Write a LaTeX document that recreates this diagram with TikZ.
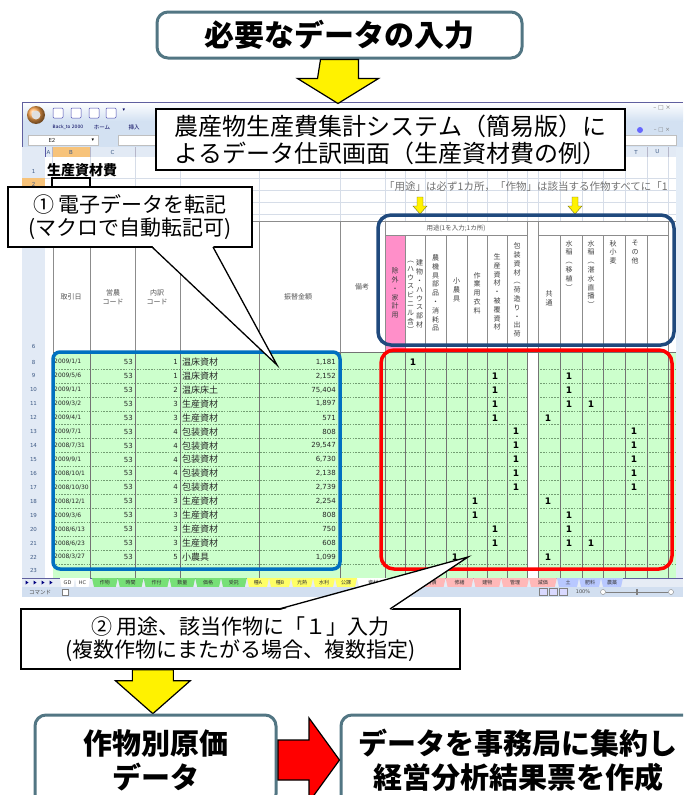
\documentclass[tikz,border=0pt]{standalone}
\usepackage{fontspec}
\newfontfamily\jp{Noto Sans CJK JP}
\newfontfamily\dv{DejaVu Sans}
\usetikzlibrary{calc}
\definecolor{framec}{HTML}{527683}
\definecolor{navyc}{HTML}{1F497D}
\definecolor{xblue}{HTML}{0070C0}
\definecolor{cellg}{HTML}{CCFFCC}
\definecolor{hdrbg}{HTML}{E2EAF5}
\definecolor{ribbonc}{HTML}{D3E1F2}
\definecolor{gridc}{HTML}{D6DDE8}
\definecolor{pinkc}{HTML}{FF8FC9}
\definecolor{selorange}{HTML}{F7C37A}
\definecolor{txtgray}{HTML}{555555}
\definecolor{rowtxt}{HTML}{3E5A85}
\definecolor{tabbg}{HTML}{E6ECF5}
\definecolor{statbg}{HTML}{D2DFF0}
\definecolor{greentab}{HTML}{77E077}
\definecolor{yellowtab}{HTML}{FFFF66}
\definecolor{pinktab}{HTML}{FFB8B8}
\definecolor{bluetab}{HTML}{B8C8FF}
\tikzset{
  bigbox/.style={draw=framec, line width=3pt, rounded corners=11pt, fill=white},
  bigtext/.style={font=\jp\bfseries\fontsize{29}{34}\selectfont, align=center, inner sep=0pt},
  callbox/.style={draw=black, line width=1.3pt, fill=white, align=center, inner sep=0pt,
    font=\jp\fontsize{21}{23}\selectfont},
  titlebox/.style={draw=black, line width=1.2pt, fill=white, align=left, inner sep=0pt,
    font=\jp\fontsize{24}{27}\selectfont},
  yarrow/.style={fill=yellow, draw=black, line width=1.2pt, line join=miter},
  rarrow/.style={fill=red, draw=black, line width=1.2pt, line join=miter},
  tinytxt/.style={font=\jp\fontsize{5.5}{6}\selectfont, inner sep=0pt, text=blue!35!black},
  tabtxt/.style={font=\jp\fontsize{5}{6}\selectfont, inner sep=0pt, text=black!80},
  celltxt/.style={font=\jp\fontsize{9}{10}\selectfont, inner sep=0pt, text=black!85},
  numtxt/.style={font=\dv\fontsize{7}{8}\selectfont, inner sep=0pt, text=black!85},
  onetxt/.style={font=\dv\bfseries\fontsize{9}{10}\selectfont, inner sep=0pt},
  vtxt/.style={font=\jp\fontsize{7}{8.8}\selectfont, align=center, inner sep=0pt, text=black!75},
  hdrtxt/.style={font=\jp\fontsize{7}{8.5}\selectfont, align=center, inner sep=0pt, text=txtgray},
  rownum/.style={font=\dv\fontsize{5.5}{6}\selectfont, inner sep=0pt, text=rowtxt},
  hl/.style={line width=3.5pt, rounded corners=13pt},
  gline/.style={draw=gridc, line width=0.4pt},
  vline/.style={draw=black!55, line width=0.5pt},
  dashline/.style={draw=green!30!black!55, line width=0.45pt, dash pattern=on 1.6pt off 1.2pt},
}
\begin{document}
\begin{tikzpicture}[x=1pt,y=-1pt]
\useasboundingbox (0,0) rectangle (683,795);
\clip (0,0) rectangle (683,795);
\fill[white] (0,0) rectangle (683,795);

%% ================= Excel window =================
\fill[ribbonc] (22,102) rectangle (683,147);
\shade[top color=white, bottom color=ribbonc] (22,102) rectangle (683,121);
\draw[blue!25!gray, line width=0.5pt] (22,102) -- (683,102);
\draw[blue!25!gray, line width=0.5pt] (22,102) -- (22,597);
% office button
\shade[ball color=orange!70!white] (36,115) circle (9);
\fill[white!75!gray] (36,115) circle (4.5);
% quick access icons
\foreach \qx in {58,76,94,111}{
  \draw[fill=white, draw=blue!40!gray, rounded corners=1pt, line width=0.5pt] (\qx-5,108) rectangle (\qx+5,118);
}
\node[tinytxt, font=\dv\fontsize{5}{5}\selectfont] (qdrop) at (124,110) {▾};
% window controls
\node[tinytxt, font=\dv\fontsize{6}{6}\selectfont, text=gray] (winctl) at (662,108) {– □ ×};
\fill[blue!60!white] (640,130) circle (3);
\node[tinytxt, font=\dv\fontsize{5.5}{6}\selectfont, text=gray] (ribctl) at (662,130) {– □ ×};
% ribbon tabs
\node[tinytxt, font=\dv\fontsize{4.5}{5}\selectfont] (rb1) at (68,127) {Back\_to 2000};
\node[tinytxt] (rb2) at (102,127) {ホーム};
\node[tinytxt] (rb3) at (134,127) {挿入};
% formula bar
\fill[white] (28,135) rectangle (98,145);
\draw[gray!50, line width=0.4pt] (28,135) rectangle (98,145);
\node[numtxt, font=\dv\fontsize{5.5}{6}\selectfont] (namebox) at (52,140) {E2};
\node[tinytxt, font=\dv\fontsize{5}{5}\selectfont, text=black] (nbdrop) at (93,140) {▾};
\fill[white] (118,135) rectangle (676,145);
\draw[gray!50, line width=0.4pt] (118,135) rectangle (676,145);

% column header row
\fill[hdrbg] (22,147) rectangle (683,157);
\fill[selorange] (52,147) rectangle (90,157);
\draw[blue!25!gray, line width=0.4pt] (22,157) -- (683,157);
\foreach \a in {45,52,90,135,180,259,340,385,405,425,446,467,487,507,527,538,560,582,603,625,647,668}{
  \draw[blue!15!gray!50, line width=0.4pt] (\a,147) -- (\a,157);
}
\foreach \a/\b/\l in {45/52/A,52/90/B,90/135/C,625/647/T,647/668/U,668/689/V}{
  \node[rownum] (col\l) at ({(\a+\b)/2},152) {\l};
}

% row header column
\fill[hdrbg] (22,157) rectangle (45,578);
\fill[selorange] (22,178) rectangle (45,190);
\draw[blue!30!gray, line width=0.5pt] (45,147) -- (45,578);
\node[rownum] (rn1) at (33.5,171) {1};
\node[rownum] (rn2) at (33.5,184) {2};
\node[rownum] (rn6) at (33.5,346) {6};
\foreach \r in {8,...,23}{
  \node[rownum] (rn\r) at (33.5,{362+13.93*(\r-8)}) {\r};
}

% sheet
\fill[white] (45,157) rectangle (676,578);
\fill[ribbonc!60!white] (676,147) rectangle (683,578);
\foreach \yy in {178,190,202,214}{ \draw[gline] (45,\yy) -- (676,\yy); }
\foreach \xx in {52,90,135,180,259,340,385,405,425,446,467,487,507,527,538,560,582,603,625,647,668}{
  \draw[gline] (\xx,157) -- (\xx,221);
}
\node[anchor=west, inner sep=0pt, font=\jp\bfseries\fontsize{14}{15}\selectfont] (sheettitle) at (47,170) {生産資材費};
\draw[black, line width=1.3pt] (52,178) rectangle (90,190);

% note line with small arrows
\node[anchor=west, inner sep=0pt, text=black!55, font=\jp\fontsize{10.5}{12}\selectfont] (note) at (384,187) {「用途」は必ず1カ所，「作物」は該当する作物すべてに「1};
\foreach \ax in {420,575}{
  \draw[fill=yellow, draw=olive!80!black, line width=0.4pt] (\ax-3,197) -- (\ax+3,197) -- (\ax+3,206) -- (\ax+7,206) -- (\ax,214) -- (\ax-7,206) -- (\ax-3,206) -- cycle;
}

% header block
\fill[white] (53,221) rectangle (676,352);
\fill[pinkc] (385,235) rectangle (405,352);
\draw[black!45, line width=0.5pt] (53,221) -- (676,221);
\draw[black!45, line width=0.5pt] (385,235) -- (527,235);
\draw[black!45, line width=0.5pt] (538,235) -- (668,235);
\foreach \xx in {53,90,135,180,259,340,385,527,538,668}{
  \draw[black!45, line width=0.5pt] (\xx,221) -- (\xx,352);
}
\foreach \xx in {405,425,446,467,487,507,560,582,603,625,647}{
  \draw[black!45, line width=0.5pt] (\xx,235) -- (\xx,352);
}
\node[hdrtxt] (h1) at (71,297) {取引日};
\node[hdrtxt] (h2) at (113,297) {営農\\コード};
\node[hdrtxt] (h3) at (157,297) {内訳\\コード};
\node[hdrtxt] (h4) at (298,297) {振替金額};
\node[hdrtxt] (h5) at (362,287) {備考};
\node[hdrtxt, font=\jp\fontsize{6.5}{7}\selectfont] (h6) at (456,228.5) {用途(1を入力;1カ所)};
\node[vtxt] (v1) at (395,293) {除\\外\\・\\家\\計\\用};
\node[vtxt] (v2a) at (419.5,294) {建\\物\\・\\ハ\\ウ\\ス\\部\\材};
\node[vtxt] (v2b) at (410.5,297) {︵\\ハ\\ウ\\ス\\ビ\\ニ\\ル\\含\\︶};
\node[vtxt] (v3) at (435.5,293) {農\\機\\具\\部\\品\\・\\消\\耗\\品};
\node[vtxt] (v4) at (456.5,290) {小\\農\\具};
\node[vtxt] (v5) at (477,293) {作\\業\\用\\衣\\料};
\node[vtxt] (v6) at (497,292) {生\\産\\資\\材\\・\\被\\覆\\資\\材};
\node[vtxt] (v7) at (517,290) {包\\装\\資\\材\\︵\\荷\\造\\り\\・\\出\\荷};
\node[vtxt] (v8) at (549,298) {共\\通};
\node[vtxt, anchor=north] (v9) at (569,240) {水\\稲\\︵\\移\\植\\︶};
\node[vtxt, anchor=north] (v10) at (591,240) {水\\稲\\︵\\湛\\水\\直\\播\\︶};
\node[vtxt, anchor=north] (v11) at (613,240) {秋\\小\\麦};
\node[vtxt, anchor=north] (v12) at (635,240) {そ\\の\\他};

% data area
\fill[cellg] (53,352) rectangle (676,578);
\foreach \k in {1,...,16}{ \draw[dashline] (53,{355+13.93*\k}) -- (676,{355+13.93*\k}); }
\fill[white] (527,352) rectangle (538,578);
\foreach \xx in {90,135,180,259,340,385,405,425,446,467,487,507,527,538,560,582,603,625,647,668}{
  \draw[vline] (\xx,352) -- (\xx,578);
}
\draw[black!55, line width=0.5pt] (53,352) -- (676,352);
\foreach \va/\vb/\vc/\vd [count=\i from 0] in {
 {2009/1/1}/1/温床資材/{1,181},
 {2009/5/6}/1/温床資材/{2,152},
 {2009/1/1}/2/温床床土/{75,404},
 {2009/3/2}/3/生産資材/{1,897},
 {2009/4/1}/3/生産資材/{571},
 {2009/7/1}/4/包装資材/{808},
 {2008/7/31}/4/包装資材/{29,547},
 {2009/9/1}/4/包装資材/{6,730},
 {2008/10/1}/4/包装資材/{2,138},
 {2008/10/30}/4/包装資材/{2,739},
 {2008/12/1}/3/生産資材/{2,254},
 {2009/3/6}/3/生産資材/{808},
 {2008/6/13}/3/生産資材/{750},
 {2008/6/23}/3/生産資材/{608},
 {2008/3/27}/5/小農具/{1,099}}{
  \node[numtxt, anchor=west, font=\dv\fontsize{6}{7}\selectfont] (dt\i) at (54,{362+13.93*\i}) {\va};
  \node[numtxt, anchor=east] (ei\i) at (133,{362+13.93*\i}) {53};
  \node[numtxt, anchor=east] (cc\i) at (178,{362+13.93*\i}) {\vb};
  \node[celltxt, anchor=west] (tt\i) at (182,{362+13.93*\i}) {\vc};
  \node[numtxt, anchor=east] (am\i) at (336,{362+13.93*\i}) {\vd};
}
\foreach \ox/\oi in {413/0,495/1,569/1,495/2,569/2,495/3,569/3,591/3,495/4,548/4,516/5,634/5,516/6,634/6,516/7,634/7,516/8,634/8,516/9,634/9,475/10,548/10,475/11,569/11,495/12,569/12,495/13,569/13,591/13,455/14,548/14}{
  \node[onetxt] (one-\ox-\oi) at (\ox,{362+13.93*\oi}) {1};
}

% tab bar
\fill[tabbg] (22,578) rectangle (683,587);
\draw[blue!25!gray, line width=0.4pt] (22,578) -- (683,578);
\foreach \nx in {27,35,43,51}{ \fill[blue!50!black] (\nx-1.5,580.5) -- (\nx+1.5,582.5) -- (\nx-1.5,584.5) -- cycle; }
\foreach \lab [count=\k from 0] in {GD,HC}{
  \fill[white] ({60+15*\k},578) -- ({75+15*\k},578) -- ({73.5+15*\k},587) -- ({61.5+15*\k},587) -- cycle;
  \node[tabtxt, font=\dv\fontsize{5}{6}\selectfont] (wt\k) at ({67.5+15*\k},582.5) {\lab};
}
\foreach \lab [count=\k from 0] in {作物,時間,作付,数量,価格,受託}{
  \fill[greentab] ({92+25.8*\k},578) -- ({117.8+25.8*\k},578) -- ({115.8+25.8*\k},587) -- ({94+25.8*\k},587) -- cycle;
  \node[tabtxt] (gt\k) at ({104.9+25.8*\k},582.5) {\lab};
}
\foreach \lab [count=\k from 0] in {種A,種B,光熱,水利,公課}{
  \fill[yellowtab] ({247+22*\k},578) -- ({269+22*\k},578) -- ({267+22*\k},587) -- ({249+22*\k},587) -- cycle;
  \node[tabtxt] (yt\k) at ({258+22*\k},582.5) {\lab};
}
\fill[white] (357,578) -- (390,578) -- (388,587) -- (359,587) -- cycle;
\node[tabtxt] (wt3) at (373,582.5) {資材};
\foreach \lab [count=\k from 0] in {農具,負債,修繕,建物,管理,減価}{
  \fill[pinktab] ({390+27.8*\k},578) -- ({417.8+27.8*\k},578) -- ({415.8+27.8*\k},587) -- ({392+27.8*\k},587) -- cycle;
  \node[tabtxt] (pt\k) at ({403.9+27.8*\k},582.5) {\lab};
}
\foreach \lab [count=\k from 0] in {土,肥料,農薬}{
  \fill[bluetab] ({557+22*\k},578) -- ({579+22*\k},578) -- ({577+22*\k},587) -- ({559+22*\k},587) -- cycle;
  \node[tabtxt] (bt\k) at ({568+22*\k},582.5) {\lab};
}
% status bar
\fill[statbg] (22,587) rectangle (683,597);
\node[tinytxt, text=black!70] (status) at (40,592) {コマンド};
\draw[fill=white, draw=gray, line width=0.4pt] (62,589) rectangle (68,595);
\foreach \bx in {543,553,563}{ \draw[fill=white!85!blue, draw=gray, line width=0.4pt] (\bx-4,588.5) rectangle (\bx+4,595.5); }
\node[tinytxt, font=\dv\fontsize{5}{5}\selectfont, text=black!70] (zoomp) at (583,592) {100\%};
\draw[gray, line width=0.5pt] (606,592) -- (668,592);
\draw[fill=white, draw=gray, line width=0.4pt] (603,592) circle (2.5);
\draw[fill=white, draw=gray, line width=0.4pt] (671,592) circle (2.5);
\fill[gray] (636,589) rectangle (638,595);

% highlight frames
\draw[navyc, hl] (378,215) rectangle (674,345);
\draw[xblue, hl, rounded corners=7pt] (53,352) rectangle (340,569);
\draw[red, hl] (381,350) rectangle (672,569);

%% ================= overlays =================
\node[titlebox, minimum width=469pt, minimum height=61pt] (title) at (390.5,139.5)
  {農産物生産費集計システム（簡易版）に\\よるデータ仕訳画面（生産資材費の例）};

% callout 1
\node[callbox, minimum width=244pt, minimum height=60pt] (c1) at (130,217)
  {① 電子データを転記\\(マクロで自動転記可)};
\coordinate (c1tip) at (277,365);
\fill[white] ($(c1.south)+(22,-2)$) -- (c1tip) -- ($(c1.south)+(83,-2)$) -- cycle;
\draw[line width=1.3pt, line join=miter] ($(c1.south)+(22,-0.65)$) -- (c1tip) -- ($(c1.south)+(83,-0.65)$);

% top box and arrow
\node[bigbox, bigtext, font=\jp\bfseries\fontsize{30}{34}\selectfont, minimum width=365pt, minimum height=46pt] (top) at (339.5,35) {必要なデータの入力};
\draw[yarrow] ($(top.south)+(-19,0)$) -- ++(38,0) -- ++(0,19) -- ++(20,0) -- ++(-40.5,25) -- ++(-40.5,-25) -- ++(20,0) -- cycle;

% callout 2
\node[callbox, minimum width=439pt, minimum height=60pt] (c2) at (240.5,639)
  {② 用途、該当作物に「１」入力\\(複数作物にまたがる場合、複数指定)};
\coordinate (c2tip) at (468,557);
\fill[white] ($(c2.north)+(38.5,2)$) -- (c2tip) -- ($(c2.north)+(149.5,2)$) -- cycle;
\draw[line width=1.3pt, line join=miter] ($(c2.north)+(38.5,0.65)$) -- (c2tip) -- ($(c2.north)+(149.5,0.65)$);

% arrow 2
\draw[yarrow] ($(c2.south west)+(112,0)$) -- ++(41,0) -- ++(0,11) -- ++(17,0) -- ++(-37.5,33) -- ++(-37.5,-33) -- ++(17,0) -- cycle;

% bottom boxes
\node[bigbox, bigtext, minimum width=241pt, minimum height=90pt] (genka) at (155.5,760) {作物別原価\\データ};
\node[bigbox, minimum width=360pt, minimum height=90pt] (shuyaku) at (521,760) {};
\node[bigtext] (shuyakutxt) at (518,760) {データを事務局に集約し\\経営分析結果票を作成};
\draw[rarrow] ($(genka.east)+(0.5,-20)$) -- ++(31,0) -- ++(0,-22) -- (shuyaku.west) -- ($(shuyaku.west)+(-30.5,42)$) -- ++(0,-22) -- ++(-31,0) -- cycle;
\end{tikzpicture}
\end{document}
